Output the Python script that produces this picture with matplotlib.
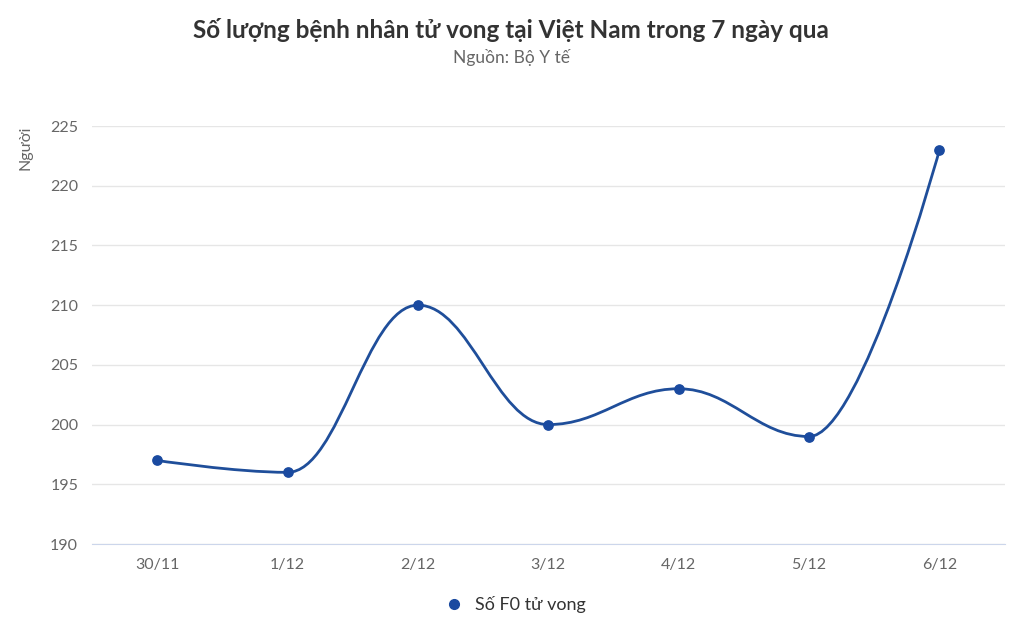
import numpy as np
import matplotlib.pyplot as plt
from matplotlib.path import Path
from matplotlib.patches import PathPatch
from matplotlib.lines import Line2D

plt.rcParams['font.family'] = ['Lato', 'DejaVu Sans']

categories = ["30/11", "1/12", "2/12", "3/12", "4/12", "5/12", "6/12"]
values = [197, 196, 210, 200, 203, 199, 223]
yticks = [190, 195, 200, 205, 210, 215, 220, 225]

LINE = "#1f4e9a"
MARK = "#1a4aa0"


def spline_path(xs, ys, smoothing=1.5):
    # Highcharts-style spline control points
    n = len(xs)
    lc = [None] * n
    rc = [None] * n
    denom = smoothing + 1
    for i in range(1, n - 1):
        px, py = xs[i], ys[i]
        lx, ly = xs[i - 1], ys[i - 1]
        nx, ny = xs[i + 1], ys[i + 1]
        lcx = (smoothing * px + lx) / denom
        lcy = (smoothing * py + ly) / denom
        rcx = (smoothing * px + nx) / denom
        rcy = (smoothing * py + ny) / denom
        corr = ((rcy - lcy) * (rcx - px)) / (rcx - lcx) + py - rcy
        lcy += corr
        rcy += corr
        if lcy > max(ly, py):
            lcy = max(ly, py); rcy = 2 * py - lcy
        elif lcy < min(ly, py):
            lcy = min(ly, py); rcy = 2 * py - lcy
        if rcy > max(py, ny):
            rcy = max(py, ny); lcy = 2 * py - rcy
        elif rcy < min(py, ny):
            rcy = min(py, ny); lcy = 2 * py - rcy
        lc[i] = (lcx, lcy)
        rc[i] = (rcx, rcy)
    verts = [(xs[0], ys[0])]
    codes = [Path.MOVETO]
    for i in range(1, n):
        c1 = rc[i - 1] or (xs[i - 1], ys[i - 1])
        c2 = lc[i] or (xs[i], ys[i])
        verts += [c1, c2, (xs[i], ys[i])]
        codes += [Path.CURVE4] * 3
    return Path(verts, codes)


fig = plt.figure(figsize=(10.22, 6.3), dpi=100)
ax = fig.add_axes([0.090, 0.1365, 0.893, 0.6635])

x = np.arange(len(values))
ax.add_patch(PathPatch(spline_path(x, values), fill=False, edgecolor=LINE, lw=2, zorder=3))
ax.scatter(x, values, s=45, color=MARK, zorder=4)

ax.set_xlim(-0.5, len(values) - 0.5)
ax.set_ylim(190, 225)
ax.set_yticks(yticks)
ax.set_xticks(x)
ax.set_xticklabels(categories)
ax.grid(axis='y', color='#e6e6e6', lw=1)
ax.set_axisbelow(True)
for s in ['top', 'right', 'left']:
    ax.spines[s].set_visible(False)
ax.spines['bottom'].set_color('#ccd6eb')
ax.tick_params(axis='y', length=0, labelsize=11.5, labelcolor='#666666', pad=10)
ax.tick_params(axis='x', length=0, labelsize=11.5, labelcolor='#666666', pad=10)

fig.text(0.025, 0.80, "Người", rotation=90, ha='center', va='top', fontsize=11.5, color='#666666')
fig.text(0.5, 0.952, "Số lượng bệnh nhân tử vong tại Việt Nam trong 7 ngày qua",
         ha='center', va='center', fontsize=17.5, fontweight='bold', color='#333333')
fig.text(0.5, 0.908, "Nguồn: Bộ Y tế", ha='center', va='center', fontsize=12.5, color='#666666')

handle = Line2D([0], [0], marker='o', linestyle='None', markersize=7, color=MARK)
fig.legend(handles=[handle], labels=["Số F0 tử vong"], loc='center', bbox_to_anchor=(0.5, 0.04),
           frameon=False, fontsize=13, handletextpad=0.2, labelcolor='#333333')

fig.savefig("out.png", dpi=100)
